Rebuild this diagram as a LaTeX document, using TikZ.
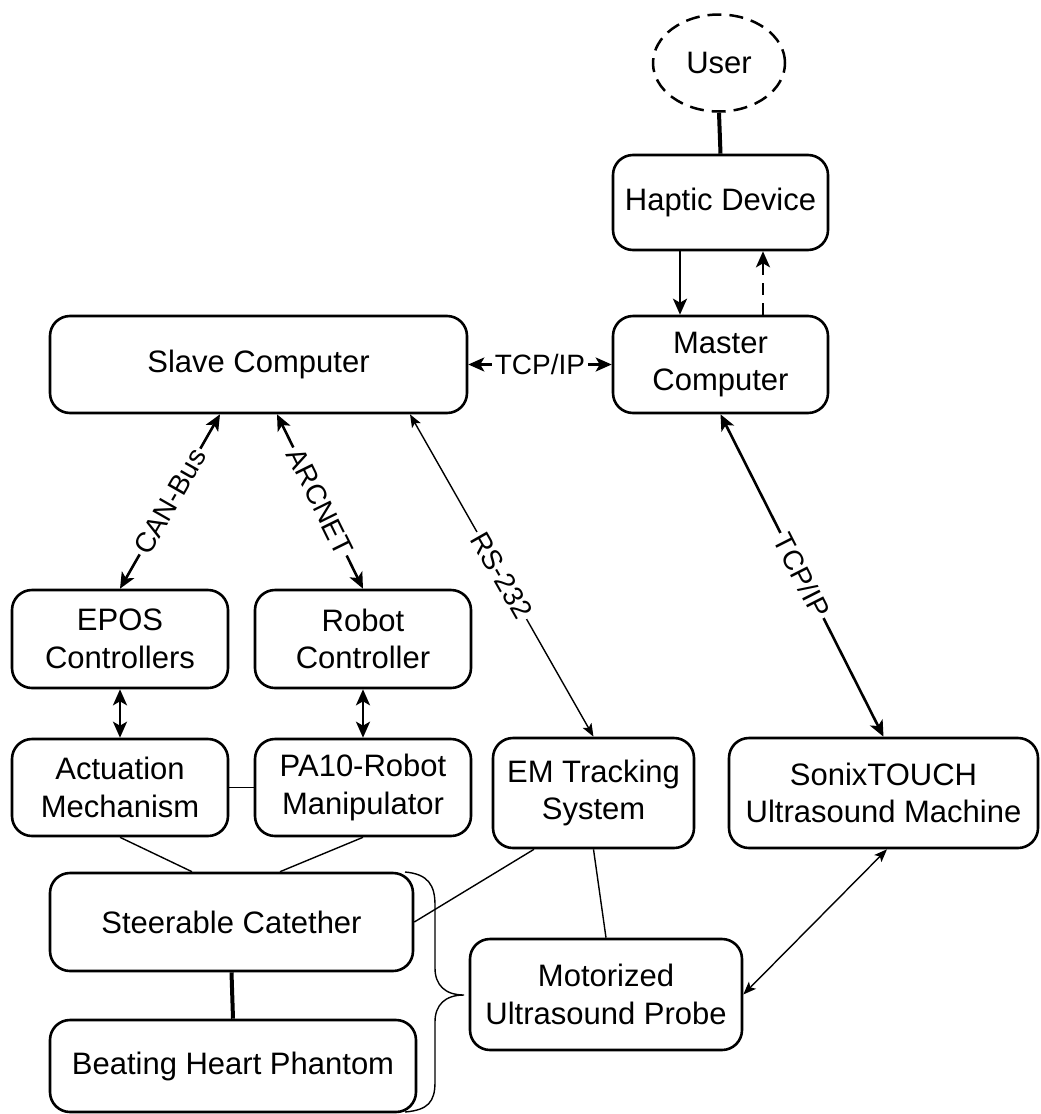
\documentclass[tikz,border=0pt]{standalone}
\usepackage{fontspec}
\setmainfont{Liberation Sans}
\usetikzlibrary{arrows.meta,shapes.geometric}
\begin{document}
\begin{tikzpicture}[x=1pt,y=-1pt,
  every node/.style={font=\fontsize{31}{37.5}\selectfont},
  box/.style={draw,line width=2.6pt,rounded corners=20pt,align=center,inner sep=0pt},
  lab/.style={font=\fontsize{28}{30}\selectfont,fill=white,inner sep=2.5pt},
  bigtip/.tip={Stealth[length=16pt,width=14pt,inset=4pt]},
  smalltip/.tip={Stealth[length=13pt,width=10pt,inset=3pt]},
  heavy/.style={line width=2.6pt},
  light/.style={line width=1.4pt},
  bold/.style={line width=4pt}
]
\useasboundingbox (0,0) rectangle (1041,1114);

% upper chain: user, haptic device, master computer
\node[draw,ellipse,line width=2.5pt,dash pattern=on 14pt off 8pt,
      minimum width=132pt,minimum height=97pt,inner sep=0pt] (user) at (719,63) {User};
\node[box,minimum width=215pt,minimum height=95pt] (haptic) at (720.5,202.5) {Haptic Device};
\node[box,minimum width=215pt,minimum height=97pt] (master) at (720.5,364.5) {Master\\Computer};
\node[box,minimum width=417pt,minimum height=97pt] (slave) at (258.5,364.5) {Slave Computer};

% controllers and hardware
\node[box,minimum width=216pt,minimum height=98pt] (epos) at (120,639) {EPOS\\Controllers};
\node[box,minimum width=216pt,minimum height=98pt] (robot) at (363,639) {Robot\\Controller};
\node[box,minimum width=216pt,minimum height=97pt] (act) at (120,787.5) {Actuation\\Mechanism};
\node[box,minimum width=216pt,minimum height=97pt] (pa10) at (363,787.5) {PA10-Robot\\Manipulator};
\node[box,minimum width=201pt,minimum height=110pt] (em) at (593.5,793) {EM Tracking\\System};
\node[box,minimum width=309pt,minimum height=110pt] (sonix) at (883.5,793) {SonixTOUCH\\Ultrasound Machine};

% patient side
\node[box,minimum width=363pt,minimum height=98pt] (steer) at (231.5,922) {Steerable Catether};
\node[box,minimum width=366pt,minimum height=92pt] (beat) at (233,1066) {Beating Heart Phantom};
\node[box,minimum width=272pt,minimum height=111pt] (motor) at (606,994.5) {Motorized\\Ultrasound Probe};

% connections
\draw[bold] (user.south) -- (haptic.north);
\draw[heavy,-bigtip] ([xshift=-40.5pt]haptic.south) -- ([xshift=-40.5pt]master.north);
\draw[heavy,-bigtip,dash pattern=on 12pt off 8pt] ([xshift=42.5pt]master.north) -- ([xshift=42.5pt]haptic.south);
\draw[heavy,bigtip-bigtip] (slave.east) -- node[lab]{TCP/IP} (master.west);

\draw[heavy,bigtip-bigtip] ([xshift=-38.5pt]slave.south) -- node[lab,sloped]{CAN-Bus} (epos.north);
\draw[heavy,bigtip-bigtip] ([xshift=18.5pt]slave.south) -- node[lab,sloped]{ARCNET} (robot.north);
\draw[light,smalltip-smalltip] ([xshift=151.5pt]slave.south) -- node[lab,sloped]{RS-232} (em.north);
\draw[heavy,bigtip-bigtip] (master.south) -- node[lab,sloped]{TCP/IP} (sonix.north);

\draw[heavy,bigtip-bigtip] (epos.south) -- (act.north);
\draw[heavy,bigtip-bigtip] (robot.south) -- (pa10.north);
\draw[light] (act.east) -- (pa10.west);
\draw[light] (act.south) -- ([xshift=-39.5pt]steer.north);
\draw[light] (pa10.south) -- ([xshift=48.5pt]steer.north);
\draw[bold] (steer.south) -- (beat.north);

\draw[light] ([xshift=-59.5pt]em.south) -- (steer.east);
\draw[light] (em.south) -- (motor.north);
\draw[light,smalltip-smalltip] ([xshift=3.5pt]sonix.south) -- (motor.east);

% brace grouping catheter and phantom
\coordinate (bracetop) at (405,872);
\coordinate (bracetip) at (464,995);
\coordinate (bracebot) at (405,1112);
\draw[light] (bracetop) .. controls (428,874) and (435,885) .. (435,905)
  -- (435,968) .. controls (435,985) and (445,995) .. (bracetip)
  .. controls (445,995) and (435,1005) .. (435,1022)
  -- (435,1082) .. controls (435,1102) and (428,1110) .. (bracebot);
\end{tikzpicture}
\end{document}
